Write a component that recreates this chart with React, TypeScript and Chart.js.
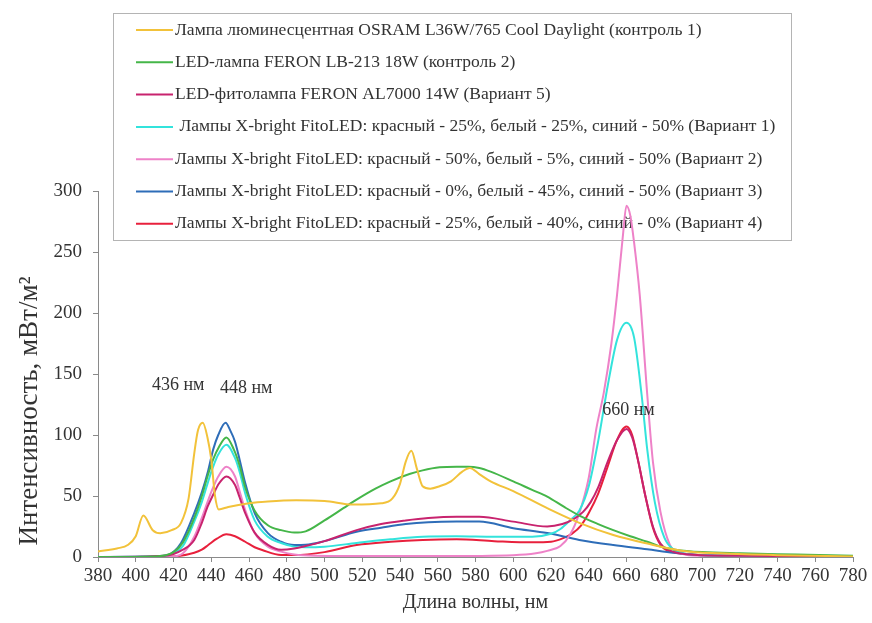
import React, { useEffect, useRef } from 'react';
import { Chart, registerables } from 'chart.js';

Chart.register(...registerables);

// ---------- data ----------
const seriesLabels = [
  'Лампа люминесцентная OSRAM L36W/765 Cool Daylight (контроль 1)',
  'LED-лампа FERON LB-213 18W (контроль 2)',
  'LED-фитолампа FERON AL7000 14W (Вариант 5)',
  ' Лампы X-bright FitoLED: красный - 25%, белый - 25%, синий - 50% (Вариант 1)',
  'Лампы X-bright FitoLED: красный - 50%, белый - 5%, синий - 50% (Вариант 2)',
  'Лампы X-bright FitoLED: красный - 0%, белый - 45%, синий - 50% (Вариант 3)',
  'Лампы X-bright FitoLED: красный - 25%, белый - 40%, синий - 0% (Вариант 4)',
];
const seriesColors = ['#F2C23A', '#45B649', '#C8236E', '#33E3DC', '#EE82C8', '#2E6DB8', '#E8203C'];

const osramNm = [380, 390, 396, 400, 404, 409, 413, 419, 424, 428, 431, 433, 435.5, 438, 440, 442, 444, 449, 460, 470, 485, 500, 515, 530, 536, 540, 543, 546, 549, 552, 556, 561, 567, 573, 577, 582, 588, 600, 618, 635, 653, 671, 690, 710, 740, 780];
const osramVal = [4.5, 7, 10, 17, 34, 22, 19.5, 22, 28, 48, 85, 104, 110, 98, 80, 50, 39, 41, 44, 45.5, 46.5, 46, 43, 44, 48, 60, 78, 87, 72, 58, 56, 58, 62, 70, 73, 68, 62, 54, 40, 28, 18, 11, 5, 3, 1.5, 0.5];

const feronLbNm = [380, 410, 420, 425, 431, 435, 438, 441, 444, 448, 452, 455, 458, 463, 470, 477, 484, 490, 500, 510, 517, 527, 535, 545, 552, 561, 570, 576, 582, 588, 600, 610, 618, 627, 635, 645, 653, 662, 671, 678, 686, 700, 720, 750, 780];
const feronLbVal = [0, 0.5, 4, 12, 32, 50, 66, 80, 90, 98, 88, 75, 57, 38, 26, 22, 20, 21, 30, 40, 47, 56, 62, 68, 71, 73.5, 74, 74, 73, 70, 62, 55, 49.5, 41, 34, 27, 22, 17, 12.5, 8.5, 6, 4, 3, 2, 1];

const feronAlNm = [380, 415, 425, 431, 435, 438, 441, 444, 448, 452.6, 455, 458, 463, 470, 477, 484, 490, 500, 517, 530, 543, 555, 570, 582, 600, 618, 626, 632, 637, 641, 645, 650, 655, 660, 663, 666, 670, 674, 678, 682, 688, 700, 720, 780];
const feronAlVal = [0, 1, 6, 14, 28, 41, 51, 60, 66, 59, 49, 36, 20, 10, 6, 7, 9, 13, 22, 27, 30, 32, 33, 33, 29, 25, 27, 31, 37, 45, 57, 78, 96, 105, 98, 80, 50, 25, 11, 6, 3, 1.5, 1, 0.5];

const variant1Nm = [380, 415, 420, 425, 431, 435, 438.4, 441, 443.7, 448, 452.6, 455, 458, 463, 470, 477, 484, 490, 500, 517, 535, 552, 570, 590, 610, 620, 625, 630, 635, 640, 645, 650, 655, 660, 664, 668, 671, 675, 680, 685, 690, 700, 730, 780];
const variant1Val = [0, 1, 3, 9, 29, 45, 62, 74, 84, 92, 81, 70, 52, 30, 16.6, 11.5, 8.5, 8, 8.5, 11.5, 14.5, 16.6, 17, 16.6, 16.6, 19, 23, 30, 38, 58, 95, 140, 178, 192, 180, 133, 88, 45, 16, 6, 3, 1.5, 1, 0.5];

const variant2Nm = [380, 420, 425, 431, 435, 438.4, 441, 443.7, 448, 452.6, 455, 458, 463, 470, 477, 484, 495, 520, 560, 600, 612, 618, 625, 630, 635, 640, 644, 648, 652, 655, 658, 660, 662, 664, 667, 671, 674, 678, 683, 688, 695, 720, 780];
const variant2Val = [0, 0.5, 3, 16.6, 32, 46.7, 57, 66, 74, 66, 54, 38.5, 19.6, 8.5, 4.4, 2, 1, 0.8, 0.8, 1.5, 3, 5, 9, 18, 36, 65, 105, 135, 175, 215, 262, 288, 280, 258, 215, 133, 78, 37, 10, 3.5, 1.2, 0.8, 0.5];

const variant3Nm = [380, 410, 417, 424, 431, 435, 438.4, 441, 443.7, 447.6, 450, 452.6, 455, 458, 463, 470, 477, 484, 490, 500, 517, 530, 543, 555, 570, 582, 600, 618, 635, 653, 671, 685, 700, 730, 780];
const variant3Val = [0, 0.3, 1.6, 11.5, 36, 53, 71, 88, 100, 110, 104, 94.5, 80, 60.6, 36, 19.6, 12.5, 9.8, 10, 13, 20.7, 24, 27, 28.5, 29, 29, 23.6, 19.6, 14, 9.8, 6.4, 3.5, 1.5, 1, 0.5];

const variant4Nm = [380, 420, 431, 435, 438.4, 443, 448, 452.6, 458, 463, 467, 477, 484, 500, 517, 535, 552, 570, 590, 610, 620, 626.5, 631, 636, 640, 645, 650, 655, 660, 663, 666, 670, 674, 678, 682, 688, 700, 730, 780];
const variant4Val = [0, 0.5, 3.5, 6, 9.8, 15, 18.6, 17, 12.5, 8, 5.7, 1.6, 1.6, 4, 9.8, 12.5, 14, 14.5, 13, 12, 12.5, 15.5, 19, 26, 36, 52, 74, 96, 107, 100, 80, 50, 24, 10, 5, 3, 1.5, 1, 0.5];

const seriesNm = [osramNm, feronLbNm, feronAlNm, variant1Nm, variant2Nm, variant3Nm, variant4Nm];
const seriesVal = [osramVal, feronLbVal, feronAlVal, variant1Val, variant2Val, variant3Val, variant4Val];

const annotationText = ['436 нм', '448 нм', '660 нм'];
const annotationNm = [422.5, 458.5, 661];
const annotationVal = [141, 138.5, 120.5];

const xMin = 380;
const xMax = 780;
const xStep = 20;
const yMin = 0;
const yMax = 300;
const yStep = 50;

const xTitle = 'Длина волны, нм';
const yTitle = 'Интенсивность, мВт/м²';

const SERIF = '"Liberation Serif", "Times New Roman", serif';

const boxLegendPlugin = {
  id: 'boxLegend',
  beforeDatasetsDraw(chart: any) {
    const ctx = chart.ctx;
    const left = 113;
    const top = 13;
    const right = 791;
    const bottom = 240;
    ctx.save();
    ctx.fillStyle = '#ffffff';
    ctx.fillRect(left, top, right - left, bottom - top);
    ctx.strokeStyle = '#b4b4b4';
    ctx.lineWidth = 1;
    ctx.strokeRect(left + 0.5, top + 0.5, right - left, bottom - top);
    ctx.font = `17.5px ${SERIF}`;
    ctx.textBaseline = 'middle';
    ctx.textAlign = 'left';
    chart.data.datasets.forEach((ds: any, i: number) => {
      const y = top + 17 + i * 32.3;
      ctx.strokeStyle = ds.borderColor;
      ctx.lineWidth = 2;
      ctx.beginPath();
      ctx.moveTo(left + 23, y);
      ctx.lineTo(left + 60, y);
      ctx.stroke();
      ctx.fillStyle = '#333333';
      ctx.fillText(ds.label, left + 62, y);
    });
    ctx.restore();
  },
};

const textPlugin = {
  id: 'peakLabels',
  afterDatasetsDraw(chart: any) {
    const ctx = chart.ctx;
    const xs = chart.scales.x;
    const ys = chart.scales.y;
    ctx.save();
    ctx.font = `18px ${SERIF}`;
    ctx.fillStyle = '#333333';
    ctx.textAlign = 'center';
    ctx.textBaseline = 'middle';
    annotationText.forEach((t, i) => {
      ctx.fillText(t, xs.getPixelForValue(annotationNm[i]), ys.getPixelForValue(annotationVal[i]));
    });
    // y axis title
    ctx.translate(30, 411);
    ctx.rotate(-Math.PI / 2);
    ctx.font = `27px ${SERIF}`;
    ctx.fillText(yTitle, 0, 0);
    ctx.restore();
  },
};

export default function App() {
  const canvasRef = useRef<HTMLCanvasElement | null>(null);

  useEffect(() => {
    if (!canvasRef.current) return;
    const datasets = seriesLabels.map((label, i) => ({
      label,
      data: seriesNm[i].map((x, j) => ({ x, y: seriesVal[i][j] })),
      borderColor: seriesColors[i],
      backgroundColor: seriesColors[i],
      borderWidth: 2,
      pointRadius: 0,
      fill: false,
      cubicInterpolationMode: 'monotone' as const,
    }));
    const axisColor = '#8a8a8a';
    const chart = new Chart(canvasRef.current, {
      type: 'line',
      data: { datasets },
      options: {
        animation: false,
        responsive: true,
        maintainAspectRatio: false,
        layout: { padding: { top: 191, right: 19, left: 0, bottom: 0 } },
        plugins: {
          legend: { display: false },
          tooltip: { enabled: false },
        },
        scales: {
          x: {
            type: 'linear',
            min: xMin,
            max: xMax,
            afterFit: (s: any) => {
              s.height = 66;
              s.paddingLeft = 0;
              s.paddingRight = 0;
            },
            ticks: {
              stepSize: xStep,
              autoSkip: false,
              maxRotation: 0,
              padding: 3,
              color: '#333333',
              font: { family: SERIF, size: 19 },
            },
            grid: { display: true, drawOnChartArea: false, drawTicks: true, tickLength: 5, color: axisColor },
            border: { display: true, color: axisColor, width: 1 },
            title: {
              display: true,
              text: xTitle,
              color: '#333333',
              font: { family: SERIF, size: 20 },
              padding: { top: 0, bottom: 8 },
            },
          },
          y: {
            type: 'linear',
            min: yMin,
            max: yMax,
            afterFit: (s: any) => {
              s.width = 98;
            },
            ticks: {
              stepSize: yStep,
              padding: 11,
              color: '#333333',
              font: { family: SERIF, size: 19 },
            },
            grid: { display: true, drawOnChartArea: false, drawTicks: true, tickLength: 5, color: axisColor },
            border: { display: true, color: axisColor, width: 1 },
            title: { display: false },
          },
        },
      },
      plugins: [boxLegendPlugin, textPlugin],
    });
    return () => chart.destroy();
  }, []);

  return (
    <div style={{ position: 'absolute', left: 0, top: 0, width: 872, height: 623 }}>
      <canvas ref={canvasRef} />
    </div>
  );
}
